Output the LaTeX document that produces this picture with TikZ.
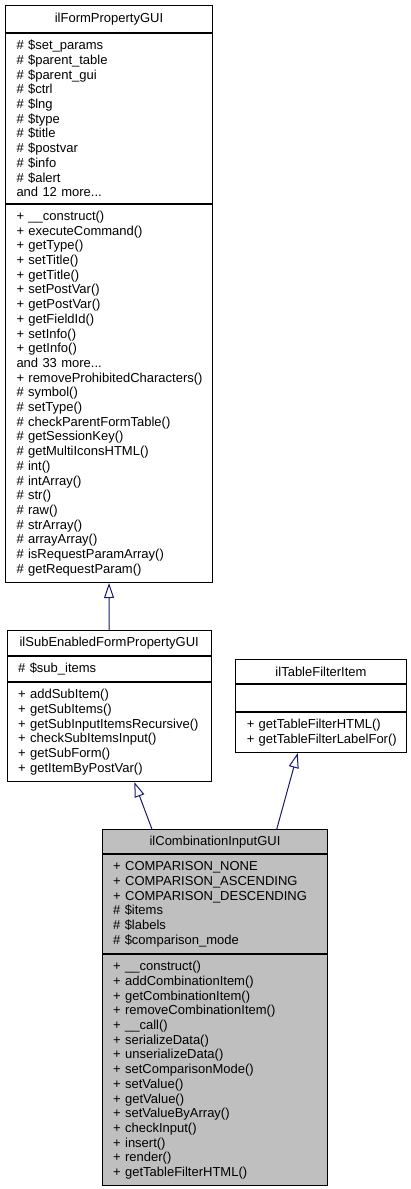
\documentclass[tikz,border=0pt]{standalone}
\usepackage{fontspec}
\setmainfont{Liberation Sans}
\usetikzlibrary{arrows.meta,calc}
\definecolor{edgeblue}{HTML}{191970}
\definecolor{focusgray}{HTML}{BFBFBF}
\hyphenpenalty=10000
\tikzset{
    member/.style={draw=black, line width=1pt, anchor=north west, inner xsep=11pt, inner ysep=0pt,
        align=left, font=\fontsize{13}{14.7}\selectfont},
    classname/.style={member, align=center},
    focus/.style={fill=focusgray},
    inherit/.style={-{Triangle[open, length=15pt, width=10pt]}, edgeblue, line width=1pt}
}

\begin{document}
\begin{tikzpicture}[x=1pt, y=-1pt]
\useasboundingbox (0,0) rectangle (411,1189);

% ilFormPropertyGUI
\node[classname, text width=185pt, minimum height=27pt] (fpgName) at (5,5) {ilFormPropertyGUI};
\node[member, text width=185pt, minimum height=170pt] (fpgAttr) at (fpgName.south west) {
    \#~\$set\_params\\ \#~\$parent\_table\\ \#~\$parent\_gui\\ \#~\$ctrl\\ \#~\$lng\\
    \#~\$type\\ \#~\$title\\ \#~\$postvar\\ \#~\$info\\ \#~\$alert\\ and~12~more...};
\node[member, text width=185pt, minimum height=378pt] (fpgMeth) at (fpgAttr.south west) {
    +~\_\_construct()\\ +~executeCommand()\\ +~getType()\\ +~setTitle()\\ +~getTitle()\\
    +~setPostVar()\\ +~getPostVar()\\ +~getFieldId()\\ +~setInfo()\\ +~getInfo()\\
    and~33~more...\\ +~removeProhibitedCharacters()\\ \#~symbol()\\ \#~setType()\\
    \#~checkParentFormTable()\\ \#~getSessionKey()\\ \#~getMultiIconsHTML()\\ \#~int()\\
    \#~intArray()\\ \#~str()\\ \#~raw()\\ \#~strArray()\\ \#~arrayArray()\\
    \#~isRequestParamArray()\\ \#~getRequestParam()};

% ilSubEnabledFormPropertyGUI
\node[classname, text width=182pt, minimum height=25pt] (sefName) at (6.7,630) {ilSubEnabledFormPropertyGUI};
\node[member, text width=182pt, minimum height=25pt] (sefAttr) at (sefName.south west) {\#~\$sub\_items};
\node[member, text width=182pt, minimum height=99pt] (sefMeth) at (sefAttr.south west) {
    +~addSubItem()\\ +~getSubItems()\\ +~getSubInputItemsRecursive()\\
    +~checkSubItemsInput()\\ +~getSubForm()\\ +~getItemByPostVar()};

% ilTableFilterItem
\node[classname, text width=148.4pt, minimum height=24.3pt] (tfiName) at (235.3,659) {ilTableFilterItem};
\node[member, text width=148.4pt, minimum height=26.7pt] (tfiAttr) at (tfiName.south west) {};
\node[member, text width=148.4pt, minimum height=40pt] (tfiMeth) at (tfiAttr.south west) {
    +~getTableFilterHTML()\\ +~getTableFilterLabelFor()};

% ilCombinationInputGUI
\node[classname, focus, text width=203.6pt, minimum height=24pt] (cigName) at (101.7,829.3) {ilCombinationInputGUI};
\node[member, focus, text width=203.6pt, minimum height=99pt] (cigAttr) at (cigName.south west) {
    +~COMPARISON\_NONE\\ +~COMPARISON\_ASCENDING\\ +~COMPARISON\_DESCENDING\\
    \#~\$items\\ \#~\$labels\\ \#~\$comparison\_mode};
\node[member, focus, text width=203.6pt, minimum height=231pt] (cigMeth) at (cigAttr.south west) {
    +~\_\_construct()\\ +~addCombinationItem()\\ +~getCombinationItem()\\
    +~removeCombinationItem()\\ +~\_\_call()\\ +~serializeData()\\ +~unserializeData()\\
    +~setComparisonMode()\\ +~setValue()\\ +~getValue()\\ +~setValueByArray()\\
    +~checkInput()\\ +~insert()\\ +~render()\\ +~getTableFilterHTML()};

% Inheritance
\draw[inherit] (sefName.north) -- (fpgMeth.south);
\draw[inherit] ($(cigName.north west)+(50.3,0)$) -- ($(sefMeth.south west)+(127.6,0)$);
\draw[inherit] ($(cigName.north west)+(175,0)$) -- ($(tfiMeth.south west)+(62.4,0)$);
\end{tikzpicture}
\end{document}
